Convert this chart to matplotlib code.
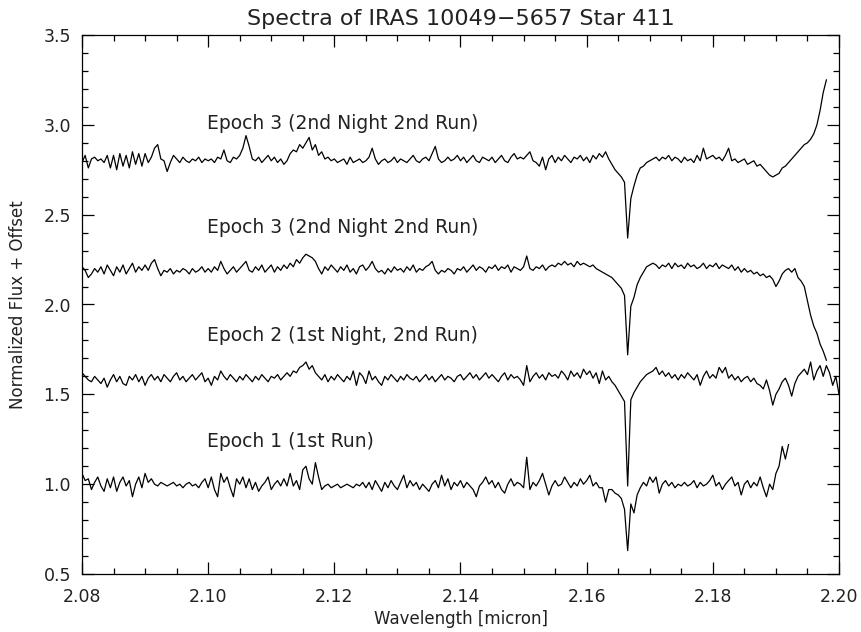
import numpy as np
import matplotlib
matplotlib.use("Agg")
import matplotlib.pyplot as plt
from matplotlib.ticker import MultipleLocator, FormatStrFormatter

# ---- data (flux values in hundredths, sampled every 0.0005 micron from 2.080) ----
wave_start = 2.080
wave_step = 0.0005

epoch3_run2b = [
    279, 283, 276, 281, 282, 280, 281, 279, 283, 276,
    283, 275, 284, 277, 283, 276, 285, 278, 284, 277,
    284, 279, 282, 287, 289, 281, 280, 274, 279, 283,
    281, 279, 282, 280, 279, 281, 280, 282, 279, 281,
    280, 281, 279, 282, 281, 286, 280, 279, 282, 281,
    283, 287, 294, 288, 281, 280, 282, 279, 281, 283,
    280, 282, 279, 281, 278, 280, 284, 286, 285, 289,
    287, 290, 293, 286, 289, 283, 285, 281, 282, 280,
    281, 279, 280, 281, 278, 282, 279, 280, 281, 279,
    280, 282, 287, 281, 278, 280, 281, 279, 280, 282,
    279, 281, 280, 279, 281, 283, 280, 279, 281, 282,
    280, 284, 288, 281, 279, 280, 282, 280, 281, 283,
    280, 282, 279, 281, 283, 280, 279, 282, 281, 280,
    282, 279, 281, 283, 280, 279, 282, 284, 281, 282,
    281, 283, 285, 280, 279, 277, 282, 275, 281, 283,
    279, 282, 280, 283, 281, 279, 282, 281, 283, 280,
    282, 279, 283, 281, 284, 282, 285, 281,
    278, 275, 273, 271, 268, 237, 259, 266, 272, 276, 277, 279, 280, 281, 282,
    280, 282, 281, 283, 280, 282, 281,
    279, 282, 280, 281, 279, 283, 280, 287, 281, 282,
    283, 281, 282, 280, 283, 287, 280, 281, 279, 280,
    281, 278, 279, 280, 277, 278, 276, 274, 272, 271,
    272, 273, 276, 277, 279, 281, 283, 285, 287, 289,
    290, 292, 295, 300, 308, 318, 325,
]

epoch3_run2a = [
    221, 219, 215, 217, 220, 218, 221, 217, 222, 219,
    216, 221, 218, 222, 217, 220, 223, 218, 221, 219,
    222, 219, 223, 225, 220, 216, 219, 218, 220, 217,
    219, 218, 220, 219, 217, 220, 218, 219, 221, 218,
    220, 218, 221, 219, 224, 220, 217, 219, 221, 218,
    220, 222, 224, 219, 218, 221, 219, 222, 218, 220,
    222, 218, 221, 219, 222, 220, 223, 221, 225, 223,
    226, 228, 227, 226, 224, 220, 217, 221, 219, 222,
    220, 218, 221, 219, 222, 218, 220, 217, 221, 222,
    219, 221, 224, 220, 218, 219, 217, 220, 218, 221,
    219, 220, 218, 221, 219, 222, 218, 220, 219, 221,
    222, 224, 219, 217, 219, 218, 220, 219, 217, 220,
    219, 221, 218, 220, 222, 219, 221, 220, 218, 221,
    220, 222, 219, 221, 220, 222, 218, 221, 220, 219,
    221, 227, 220, 219, 221, 220, 222, 219, 221, 222,
    221, 223, 222, 224, 222, 223, 221, 224, 222, 223,
    222, 221, 222, 220, 219, 218, 217, 216,
    215, 213, 211, 209, 205, 172, 199, 204, 211, 215, 218, 221, 222, 223, 222,
    220, 222, 221, 223, 220, 223, 221,
    222, 220, 223, 221, 222, 220, 221, 223, 220, 222,
    221, 223, 220, 222, 221, 220, 222, 219, 221, 218,
    220, 218, 219, 217, 218, 216, 217, 215, 216, 214,
    210, 213, 217, 219, 220, 218, 220, 215, 213, 210,
    202, 194, 188, 184, 178, 174, 169,
]

epoch2 = [
    162, 160, 158, 157, 160, 158, 156, 159, 154, 158,
    161, 157, 160, 156, 155, 160, 158, 161, 157, 160,
    155, 159, 161, 158, 160, 157, 161, 159, 157, 160,
    162, 158, 160, 157, 159, 161, 158, 160, 162, 157,
    159, 155, 160, 158, 163, 160, 158, 161, 159, 157,
    160, 158, 161, 159, 157, 160, 158, 161, 159, 157,
    160, 159, 161, 158, 160, 162, 160, 163, 162, 165,
    166, 168, 164, 166, 162, 160, 158, 161, 157, 160,
    158, 161, 159, 157, 160, 158, 163, 155, 162, 160,
    156, 163, 158, 160, 157, 155, 160, 158, 161, 159,
    157, 160, 158, 161, 159, 158, 160, 157, 159, 161,
    158, 160, 157, 159, 161, 158, 160, 159, 157, 160,
    161, 158, 160, 162, 159, 161, 158, 160, 162, 159,
    161, 159, 157, 160, 162, 158, 161, 159, 160, 158,
    155, 166, 157, 160, 162, 159, 161, 158, 162, 160,
    161, 159, 163, 161, 158, 163, 160, 162, 159, 164,
    161, 163, 159, 162, 156, 163, 158, 160,
    157, 155, 152, 149, 146, 99, 147, 151, 154, 157, 159, 161, 162, 163, 165,
    161, 163, 160, 162, 159, 161, 158,
    161, 159, 162, 160, 158, 161, 155, 160, 163, 159,
    161, 159, 165, 162, 165, 159, 161, 158, 160, 157,
    159, 160, 157, 159, 156, 155, 153, 158, 152, 144,
    150, 153, 157, 159, 155, 149, 156, 160, 162, 164,
    161, 168, 158, 163, 166, 160, 166, 162, 155, 160, 150,
]

epoch1 = [
    106, 102, 103, 97, 101, 104, 99, 96, 103, 98,
    104, 96, 101, 104, 99, 102, 93, 100, 104, 98,
    106, 101, 103, 100, 99, 101, 100, 99, 100, 101,
    99, 100, 98, 100, 101, 99, 100, 98, 101, 103,
    98, 104, 97, 93, 106, 101, 104, 98, 93, 103,
    100, 104, 98, 103, 97, 101, 96, 99, 101, 104,
    97, 100, 102, 99, 103, 99, 106, 99, 102, 97,
    108, 110, 103, 100, 112, 104, 97, 99, 100, 98,
    99, 100, 98, 99, 100, 99, 98, 100, 99, 101,
    98, 101, 97, 102, 99, 96, 101, 98, 102, 99,
    97, 101, 105, 98, 102, 99, 101, 97, 100, 98,
    96, 100, 102, 98, 105, 99, 103, 97, 101, 99,
    102, 98, 101, 99, 97, 93, 99, 101, 104, 100,
    102, 98, 101, 97, 95, 100, 103, 99, 101, 100,
    98, 115, 97, 101, 99, 102, 106, 100, 94, 99,
    102, 99, 100, 104, 101, 98, 101, 99, 103, 100,
    102, 105, 99, 101, 98, 98, 90, 97,
    97, 95, 94, 92, 86, 63, 89, 84, 94, 98, 101, 99, 104, 101, 104,
    95, 100, 102, 99, 101, 98, 100,
    99, 101, 99, 100, 102, 98, 101, 99, 100, 102,
    105, 99, 101, 97, 100, 102, 104, 99, 101, 94,
    100, 102, 98, 101, 99, 104, 98, 93, 100, 97,
    106, 110, 121, 114, 122,
]

labels = [
    "Epoch 3 (2nd Night 2nd Run)",
    "Epoch 3 (2nd Night 2nd Run)",
    "Epoch 2 (1st Night, 2nd Run)",
    "Epoch 1 (1st Run)",
]
label_y = [3.01, 2.43, 1.83, 1.235]
label_x = 2.0998

title = "Spectra of IRAS 10049\u22125657 Star 411"
xlabel = "Wavelength [micron]"
ylabel = "Normalized Flux + Offset"

# ---- plot ----
plt.rcParams['font.family'] = ['DejaVu Sans']
fig = plt.figure(figsize=(8.61, 6.32), dpi=100)
ax = fig.add_axes([82/861, 1-574/632, (839-82)/861, (574-35)/632])

for series in [epoch3_run2b, epoch3_run2a, epoch2, epoch1]:
    flux = np.array(series, dtype=float) / 100.0
    wave = wave_start + wave_step * np.arange(len(flux))
    ax.plot(wave, flux, color='black', lw=0.9)

for lab, ly in zip(labels, label_y):
    ax.text(label_x, ly, lab, fontsize=13.5, va='center', ha='left', color='#222222')

ax.set_xlim(2.08, 2.20)
ax.set_ylim(0.5, 3.5)
ax.xaxis.set_major_locator(MultipleLocator(0.02))
ax.xaxis.set_minor_locator(MultipleLocator(0.005))
ax.yaxis.set_major_locator(MultipleLocator(0.5))
ax.yaxis.set_minor_locator(MultipleLocator(0.1))
ax.xaxis.set_major_formatter(FormatStrFormatter('%.2f'))
ax.yaxis.set_major_formatter(FormatStrFormatter('%.1f'))
ax.tick_params(which='both', direction='in', top=True, right=True, width=0.9, colors='black',
               labelcolor='#222222')
ax.tick_params(which='major', length=8.6, labelsize=12.5, pad=10)
ax.tick_params(which='minor', length=4.3)
ax.tick_params(axis='y', which='major', pad=8)
for s in ax.spines.values():
    s.set_linewidth(0.9)

ax.set_title(title, fontsize=16, pad=7, color='#222222')
ax.set_xlabel(xlabel, fontsize=12, labelpad=3, color='#222222')
ax.set_ylabel(ylabel, fontsize=12, labelpad=12, color='#222222')

fig.savefig("out.png", dpi=100)
